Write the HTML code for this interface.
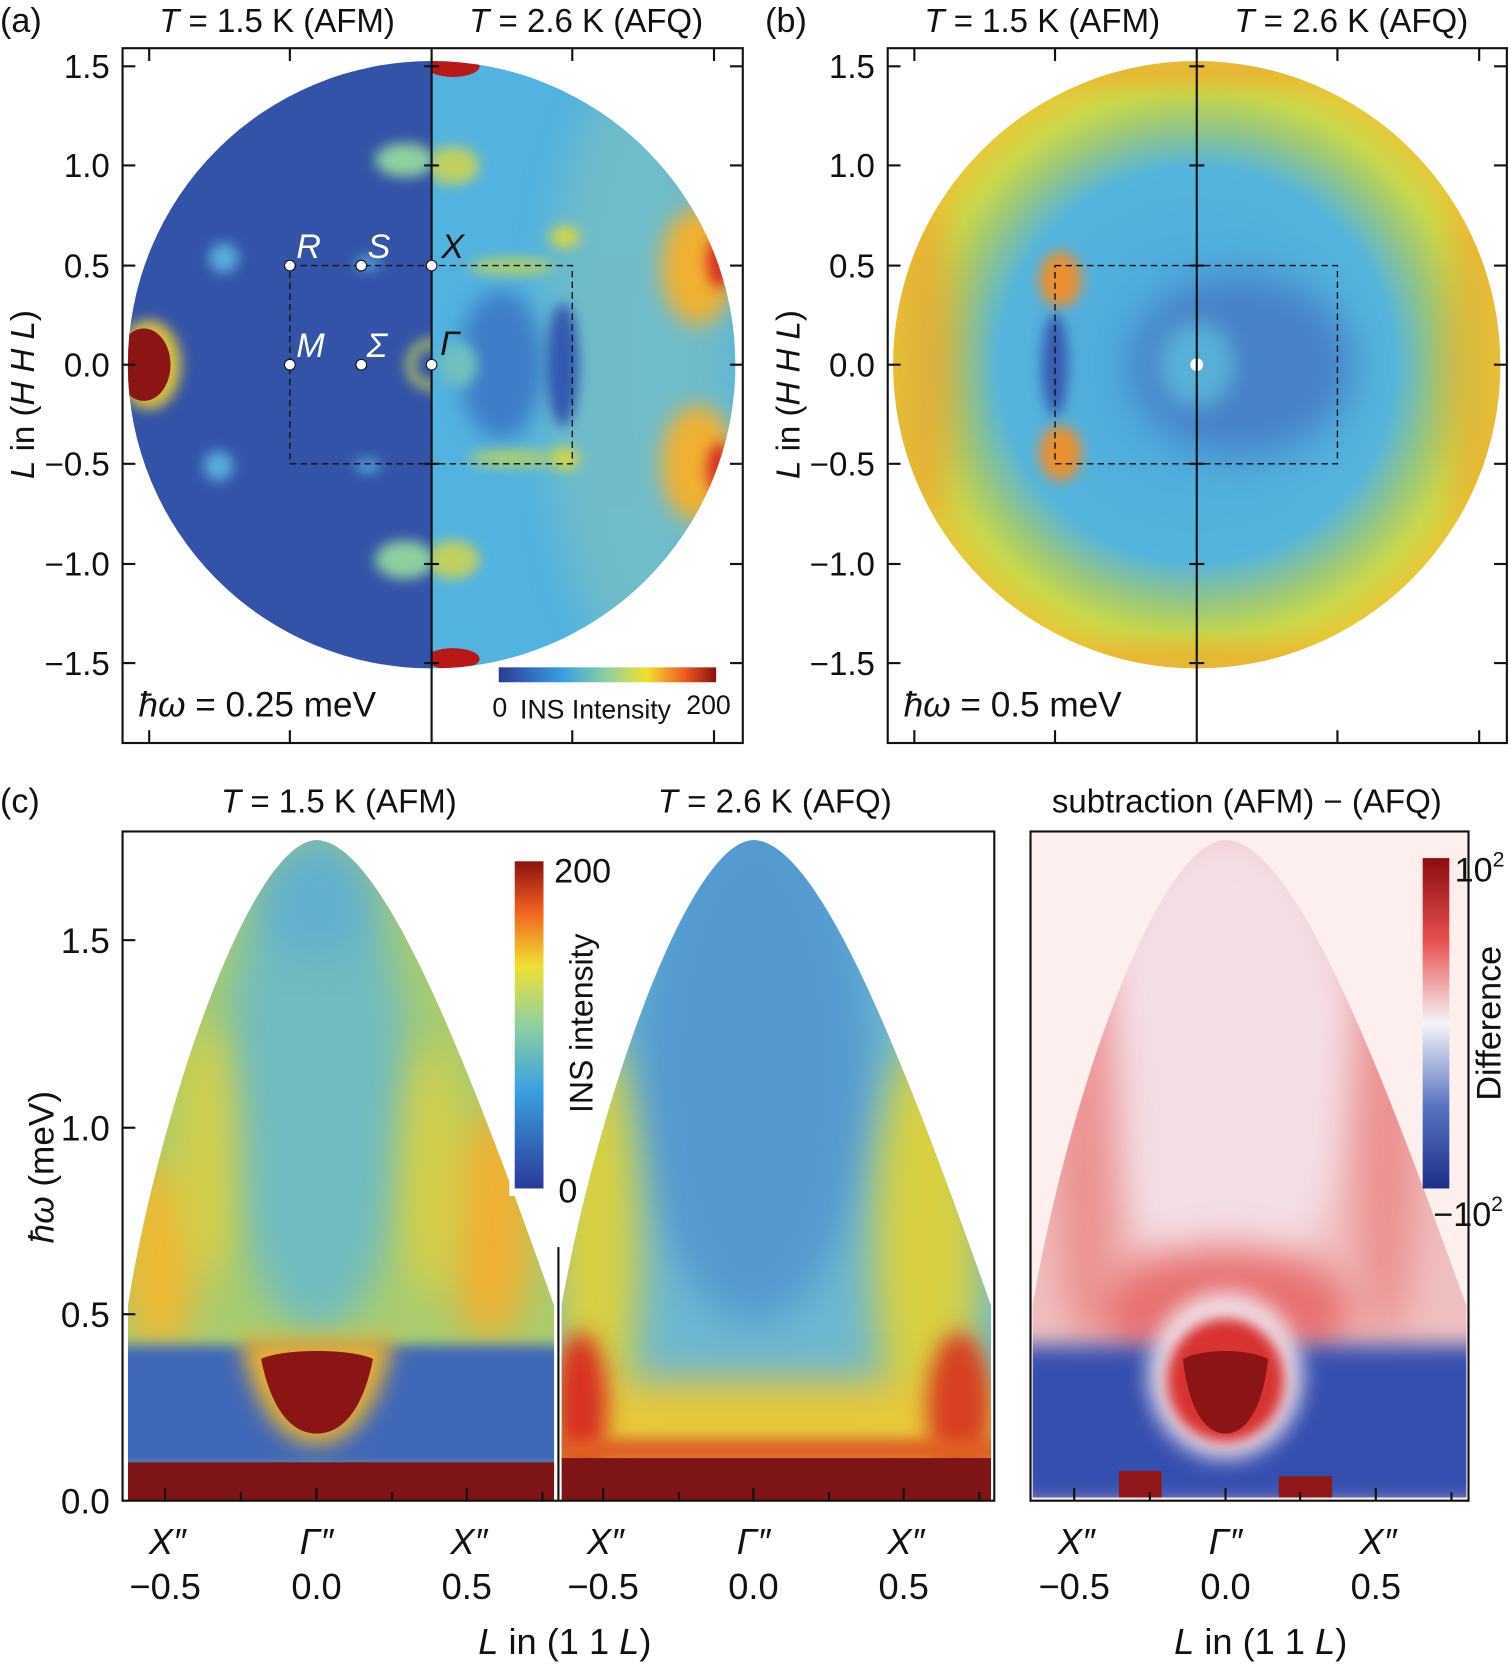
<!DOCTYPE html>
<html><head><meta charset="utf-8">
<style>
html,body{margin:0;padding:0;background:#fff;}
svg{display:block;}
text{font-family:"Liberation Sans",sans-serif;fill:#111;}
</style></head>
<body>
<svg width="1509" height="1664" viewBox="0 0 1416 1561" xmlns="http://www.w3.org/2000/svg">
<defs>
<filter id="b6" x="-100%" y="-100%" width="300%" height="300%"><feGaussianBlur stdDeviation="6"/></filter>
<filter id="b10" x="-100%" y="-100%" width="300%" height="300%"><feGaussianBlur stdDeviation="10"/></filter>
<filter id="b18" x="-100%" y="-100%" width="300%" height="300%"><feGaussianBlur stdDeviation="18"/></filter>
<clipPath id="ca"><circle cx="405" cy="342" r="285"/></clipPath>
<clipPath id="caL"><rect x="100" y="40" width="305" height="620"/></clipPath>
<clipPath id="caR"><rect x="405" y="40" width="300" height="620"/></clipPath>
<clipPath id="cb"><circle cx="1123" cy="342" r="285"/></clipPath>
<clipPath id="d1"><path d="M120,1408 L120,1225 C150,1040 235,790 297,788 C360,790 440,1000 520,1225 L520,1408 Z"/></clipPath>
<clipPath id="d2"><path d="M527,1408 L527,1225 C560,1040 645,790 707,788 C770,790 850,1000 930,1225 L930,1408 Z"/></clipPath>
<clipPath id="d3"><path d="M969,1405 L969,1225 C1000,1040 1085,790 1150,788 C1215,790 1295,1000 1376,1225 L1376,1405 Z"/></clipPath>
<linearGradient id="cbar" x1="0" x2="1" y1="0" y2="0">
<stop offset="0" stop-color="#2b3a9a"/><stop offset="0.3" stop-color="#3aa0e0"/><stop offset="0.5" stop-color="#8fd0a0"/><stop offset="0.68" stop-color="#f0e030"/><stop offset="0.85" stop-color="#f06020"/><stop offset="1" stop-color="#8b1010"/></linearGradient>
<linearGradient id="cbarV" x1="0" x2="0" y1="1" y2="0">
<stop offset="0" stop-color="#2b3a9a"/><stop offset="0.3" stop-color="#3aa0e0"/><stop offset="0.5" stop-color="#8fd0a0"/><stop offset="0.68" stop-color="#f0e030"/><stop offset="0.85" stop-color="#f06020"/><stop offset="1" stop-color="#8b1010"/></linearGradient>
<linearGradient id="cdif" x1="0" x2="0" y1="1" y2="0">
<stop offset="0" stop-color="#1c2f8a"/><stop offset="0.25" stop-color="#5a74c0"/><stop offset="0.5" stop-color="#f4f4f8"/><stop offset="0.75" stop-color="#e85050"/><stop offset="1" stop-color="#8b0c10"/></linearGradient>
<radialGradient id="rb" cx="0.5" cy="0.5" r="0.5">
<stop offset="0" stop-color="#4aa6de"/><stop offset="0.65" stop-color="#55b4dc"/><stop offset="0.8" stop-color="#9cc878"/><stop offset="0.9" stop-color="#c8d84a"/><stop offset="1" stop-color="#e8c838"/></radialGradient>
</defs>

<!-- ================= Panel (a) ================= -->
<text x="0" y="30" font-size="32">(a)</text>
<text x="260" y="30" font-size="31" text-anchor="middle"><tspan font-style="italic">T</tspan> = 1.5 K (AFM)</text>
<text x="550" y="30" font-size="31" text-anchor="middle"><tspan font-style="italic">T</tspan> = 2.6 K (AFQ)</text>
<g clip-path="url(#ca)">
 <g clip-path="url(#caL)">
  <rect x="100" y="40" width="305" height="620" fill="#3353a8"/>
  <ellipse cx="140" cy="342" rx="30" ry="42" fill="#d8c040" filter="url(#b6)"/>
  <ellipse cx="135" cy="342" rx="25" ry="34" fill="#8b1414"/>
  <ellipse cx="210" cy="242" rx="14" ry="14" fill="#5aaede" filter="url(#b6)"/>
  <ellipse cx="205" cy="437" rx="14" ry="14" fill="#5aaede" filter="url(#b6)"/>
  <ellipse cx="380" cy="150" rx="28" ry="16" fill="#8fd0a0" filter="url(#b6)"/>
  <ellipse cx="380" cy="525" rx="28" ry="18" fill="#8fd0a0" filter="url(#b6)"/>
  <ellipse cx="345" cy="247" rx="12" ry="6" fill="#5aaede" filter="url(#b6)"/>
  <ellipse cx="345" cy="437" rx="12" ry="6" fill="#5aaede" filter="url(#b6)"/>
  <circle cx="405" cy="342" r="20" fill="none" stroke="#c8d850" stroke-width="7" filter="url(#b6)"/>
 </g>
 <g clip-path="url(#caR)">
  <rect x="405" y="40" width="300" height="620" fill="#52b2e0"/>
  <ellipse cx="600" cy="342" rx="90" ry="280" fill="#7cc0c0" filter="url(#b18)" opacity="0.7"/>
  <ellipse cx="655" cy="250" rx="35" ry="55" fill="#f0b030" filter="url(#b10)"/>
  <ellipse cx="655" cy="435" rx="35" ry="55" fill="#f0b030" filter="url(#b10)"/>
  <ellipse cx="675" cy="245" rx="12" ry="25" fill="#d83020" filter="url(#b6)"/>
  <ellipse cx="675" cy="440" rx="12" ry="25" fill="#d83020" filter="url(#b6)"/>
  <ellipse cx="470" cy="342" rx="40" ry="70" fill="#3e7ec8" filter="url(#b10)"/>
  <ellipse cx="430" cy="342" rx="18" ry="22" fill="#70c0c0" filter="url(#b6)"/>
  <ellipse cx="528" cy="342" rx="15" ry="58" fill="#3358b0" filter="url(#b6)"/>
  <ellipse cx="530" cy="222" rx="14" ry="10" fill="#d8d840" filter="url(#b6)"/>
  <ellipse cx="530" cy="430" rx="14" ry="10" fill="#d8d840" filter="url(#b6)"/>
  <ellipse cx="425" cy="155" rx="25" ry="18" fill="#c0d060" filter="url(#b6)"/>
  <ellipse cx="425" cy="525" rx="25" ry="18" fill="#c0d060" filter="url(#b6)"/>
  <ellipse cx="425" cy="62" rx="25" ry="10" fill="#b81818"/>
  <ellipse cx="425" cy="618" rx="25" ry="10" fill="#b81818"/>
  <ellipse cx="480" cy="250" rx="40" ry="8" fill="#c8d850" filter="url(#b6)" opacity="0.8"/>
  <ellipse cx="480" cy="430" rx="40" ry="8" fill="#c8d850" filter="url(#b6)" opacity="0.8"/>
 </g>
</g>
<rect x="272" y="249" width="265" height="186" fill="none" stroke="#111" stroke-width="1.3" stroke-dasharray="6,4"/>
<line x1="405" y1="45" x2="405" y2="697" stroke="#111" stroke-width="2"/>
<g fill="#fff" stroke="#111" stroke-width="1">
<circle cx="272" cy="249" r="5"/><circle cx="339" cy="249" r="5"/><circle cx="405" cy="249" r="5"/>
<circle cx="272" cy="342" r="5"/><circle cx="339" cy="342" r="5"/><circle cx="405" cy="342" r="5"/>
</g>
<g font-size="32" font-style="italic">
<text x="278" y="242" style="fill:#fff">R</text>
<text x="345" y="242" style="fill:#fff">S</text>
<text x="414" y="242">X</text>
<text x="278" y="335" style="fill:#fff">M</text>
<text x="344" y="335" style="fill:#fff">Σ</text>
<text x="413" y="333">Γ</text>
</g>
<rect x="115" y="45" width="582" height="652" fill="none" stroke="#111" stroke-width="2"/>
<g stroke="#111" stroke-width="2">
<line x1="140" y1="45" x2="140" y2="57"/><line x1="272" y1="45" x2="272" y2="57"/><line x1="537" y1="45" x2="537" y2="57"/><line x1="670" y1="45" x2="670" y2="57"/>
<line x1="140" y1="697" x2="140" y2="685"/><line x1="272" y1="697" x2="272" y2="685"/><line x1="537" y1="697" x2="537" y2="685"/><line x1="670" y1="697" x2="670" y2="685"/>
<line x1="115" y1="62" x2="127" y2="62"/><line x1="115" y1="155" x2="127" y2="155"/><line x1="115" y1="249" x2="127" y2="249"/><line x1="115" y1="342" x2="127" y2="342"/><line x1="115" y1="435" x2="127" y2="435"/><line x1="115" y1="529" x2="127" y2="529"/><line x1="115" y1="622" x2="127" y2="622"/>
<line x1="697" y1="62" x2="685" y2="62"/><line x1="697" y1="155" x2="685" y2="155"/><line x1="697" y1="249" x2="685" y2="249"/><line x1="697" y1="342" x2="685" y2="342"/><line x1="697" y1="435" x2="685" y2="435"/><line x1="697" y1="529" x2="685" y2="529"/><line x1="697" y1="622" x2="685" y2="622"/>
<line x1="398" y1="62" x2="412" y2="62"/><line x1="398" y1="155" x2="412" y2="155"/><line x1="398" y1="435" x2="412" y2="435"/><line x1="398" y1="529" x2="412" y2="529"/><line x1="398" y1="622" x2="412" y2="622"/>
</g>
<g font-size="31" text-anchor="end">
<text x="103" y="73">1.5</text><text x="103" y="166">1.0</text><text x="103" y="260">0.5</text><text x="103" y="353">0.0</text><text x="103" y="446">−0.5</text><text x="103" y="540">−1.0</text><text x="103" y="633">−1.5</text>
</g>
<text transform="translate(32,370) rotate(-90)" font-size="31" text-anchor="middle"><tspan font-style="italic">L</tspan> in (<tspan font-style="italic">H H L</tspan>)</text>
<text x="130" y="672" font-size="33"><tspan font-style="italic">ħω</tspan> = 0.25 meV</text>
<rect x="468" y="626" width="204" height="14" fill="url(#cbar)"/>
<text x="462" y="672" font-size="25">0</text>
<text x="488" y="674" font-size="25">INS Intensity</text>
<text x="644" y="670" font-size="25">200</text>

<!-- ================= Panel (b) ================= -->
<text x="718" y="30" font-size="32">(b)</text>
<text x="978" y="30" font-size="31" text-anchor="middle"><tspan font-style="italic">T</tspan> = 1.5 K (AFM)</text>
<text x="1268" y="30" font-size="31" text-anchor="middle"><tspan font-style="italic">T</tspan> = 2.6 K (AFQ)</text>
<g clip-path="url(#cb)">
 <circle cx="1123" cy="342" r="285" fill="url(#rb)"/>
 <ellipse cx="870" cy="342" rx="25" ry="150" fill="#e8a030" filter="url(#b18)" opacity="0.8"/>
 <ellipse cx="1380" cy="342" rx="20" ry="150" fill="#e8a030" filter="url(#b18)" opacity="0.7"/>
 <ellipse cx="1123" cy="65" rx="140" ry="16" fill="#e8b030" filter="url(#b10)" opacity="0.8"/>
 <ellipse cx="1123" cy="620" rx="140" ry="16" fill="#e8b030" filter="url(#b10)" opacity="0.8"/>
 <ellipse cx="995" cy="262" rx="20" ry="26" fill="#e89030" filter="url(#b6)"/>
 <ellipse cx="995" cy="425" rx="20" ry="26" fill="#e89030" filter="url(#b6)"/>
 <ellipse cx="1165" cy="342" rx="105" ry="85" fill="#4682c8" filter="url(#b18)"/>
 <ellipse cx="1123" cy="342" rx="35" ry="40" fill="#58b0d8" filter="url(#b10)"/>
 <ellipse cx="990" cy="342" rx="12" ry="48" fill="#3858b0" filter="url(#b6)"/>
 <circle cx="1123" cy="342" r="6" fill="#fff"/>
</g>
<rect x="990" y="249" width="265" height="186" fill="none" stroke="#111" stroke-width="1.3" stroke-dasharray="6,4"/>
<line x1="1123" y1="45" x2="1123" y2="697" stroke="#111" stroke-width="2"/>
<rect x="833" y="45" width="581" height="652" fill="none" stroke="#111" stroke-width="2"/>
<g stroke="#111" stroke-width="2">
<line x1="858" y1="45" x2="858" y2="57"/><line x1="990" y1="45" x2="990" y2="57"/><line x1="1255" y1="45" x2="1255" y2="57"/><line x1="1388" y1="45" x2="1388" y2="57"/>
<line x1="858" y1="697" x2="858" y2="685"/><line x1="990" y1="697" x2="990" y2="685"/><line x1="1255" y1="697" x2="1255" y2="685"/><line x1="1388" y1="697" x2="1388" y2="685"/>
<line x1="833" y1="62" x2="845" y2="62"/><line x1="833" y1="155" x2="845" y2="155"/><line x1="833" y1="249" x2="845" y2="249"/><line x1="833" y1="342" x2="845" y2="342"/><line x1="833" y1="435" x2="845" y2="435"/><line x1="833" y1="529" x2="845" y2="529"/><line x1="833" y1="622" x2="845" y2="622"/>
<line x1="1414" y1="62" x2="1402" y2="62"/><line x1="1414" y1="155" x2="1402" y2="155"/><line x1="1414" y1="249" x2="1402" y2="249"/><line x1="1414" y1="342" x2="1402" y2="342"/><line x1="1414" y1="435" x2="1402" y2="435"/><line x1="1414" y1="529" x2="1402" y2="529"/><line x1="1414" y1="622" x2="1402" y2="622"/>
<line x1="1116" y1="62" x2="1130" y2="62"/><line x1="1116" y1="155" x2="1130" y2="155"/><line x1="1116" y1="249" x2="1130" y2="249"/><line x1="1116" y1="435" x2="1130" y2="435"/><line x1="1116" y1="529" x2="1130" y2="529"/><line x1="1116" y1="622" x2="1130" y2="622"/>
</g>
<g font-size="31" text-anchor="end">
<text x="821" y="73">1.5</text><text x="821" y="166">1.0</text><text x="821" y="260">0.5</text><text x="821" y="353">0.0</text><text x="821" y="446">−0.5</text><text x="821" y="540">−1.0</text><text x="821" y="633">−1.5</text>
</g>
<text transform="translate(750,370) rotate(-90)" font-size="31" text-anchor="middle"><tspan font-style="italic">L</tspan> in (<tspan font-style="italic">H H L</tspan>)</text>
<text x="848" y="672" font-size="33"><tspan font-style="italic">ħω</tspan> = 0.5 meV</text>

<!-- ================= Panel (c) ================= -->
<text x="0" y="762" font-size="32">(c)</text>
<text x="318" y="762" font-size="31" text-anchor="middle"><tspan font-style="italic">T</tspan> = 1.5 K (AFM)</text>
<text x="727" y="762" font-size="31" text-anchor="middle"><tspan font-style="italic">T</tspan> = 2.6 K (AFQ)</text>
<text x="1170" y="762" font-size="31" text-anchor="middle">subtraction (AFM) − (AFQ)</text>

<!-- left dome -->
<g clip-path="url(#d1)">
 <rect x="115" y="780" width="410" height="630" fill="#a8cc70"/>
 <ellipse cx="297" cy="1020" rx="85" ry="230" fill="#62b8d4" filter="url(#b18)" opacity="0.8"/>
 <ellipse cx="297" cy="840" rx="55" ry="60" fill="#58a8d8" filter="url(#b18)" opacity="0.6"/>
 <ellipse cx="150" cy="1180" rx="35" ry="90" fill="#f0b830" filter="url(#b18)"/>
 <ellipse cx="460" cy="1150" rx="40" ry="110" fill="#f0b030" filter="url(#b18)"/>
 <ellipse cx="405" cy="1100" rx="28" ry="120" fill="#e0d040" filter="url(#b18)" opacity="0.8"/>
 <ellipse cx="195" cy="1080" rx="28" ry="120" fill="#e0d040" filter="url(#b18)" opacity="0.8"/>
 <rect x="100" y="1262" width="440" height="115" fill="#4068b8" filter="url(#b6)"/>
 <path d="M225,1255 C240,1330 270,1355 297,1355 C325,1355 355,1330 370,1255 Z" fill="#e8b030" filter="url(#b10)"/>
 <path d="M245,1275 C255,1325 275,1345 297,1345 C320,1345 340,1325 350,1275 C330,1265 265,1265 245,1275 Z" fill="#8b1414"/>
 <rect x="100" y="1372" width="440" height="40" fill="#7d1517"/>
</g>
<!-- middle dome -->
<g clip-path="url(#d2)">
 <rect x="525" y="780" width="410" height="630" fill="#6cb8d0"/>
 <ellipse cx="707" cy="1000" rx="110" ry="240" fill="#4a8cd0" filter="url(#b18)" opacity="0.7"/>
 <ellipse cx="560" cy="1170" rx="40" ry="200" fill="#d8d040" filter="url(#b18)"/>
 <ellipse cx="870" cy="1170" rx="50" ry="200" fill="#d8d040" filter="url(#b18)"/>
 <rect x="515" y="1295" width="430" height="80" fill="#e8c838" filter="url(#b18)"/>
 <ellipse cx="545" cy="1320" rx="25" ry="70" fill="#d83020" filter="url(#b10)"/>
 <ellipse cx="900" cy="1320" rx="30" ry="70" fill="#d84020" filter="url(#b10)"/>
 <rect x="515" y="1350" width="430" height="22" fill="#e06020" filter="url(#b6)"/>
 <rect x="515" y="1368" width="430" height="45" fill="#7d1517"/>
</g>
<!-- right panel -->
<rect x="967" y="780" width="411" height="628" fill="#fcefed"/>
<g clip-path="url(#d3)">
 <rect x="967" y="780" width="411" height="630" fill="#f0c0c0"/>
 <ellipse cx="1150" cy="1000" rx="120" ry="220" fill="#f4e6ee" filter="url(#b18)" opacity="0.8"/>
 <ellipse cx="1020" cy="1080" rx="30" ry="180" fill="#e87070" filter="url(#b18)" opacity="0.6"/>
 <ellipse cx="1300" cy="1080" rx="30" ry="180" fill="#e87070" filter="url(#b18)" opacity="0.6"/>
 <ellipse cx="1150" cy="1230" rx="120" ry="60" fill="#e87070" filter="url(#b18)"/>
 <rect x="950" y="1262" width="450" height="150" fill="#3550b0" filter="url(#b10)"/>
 <ellipse cx="1150" cy="1290" rx="72" ry="78" fill="#f0e0e8" filter="url(#b10)"/>
 <ellipse cx="1150" cy="1295" rx="55" ry="58" fill="#d83030" filter="url(#b6)"/>
 <path d="M1110,1275 C1115,1320 1130,1345 1150,1345 C1170,1345 1185,1320 1190,1275 C1170,1265 1130,1265 1110,1275 Z" fill="#8b1414"/>
 <rect x="1050" y="1380" width="40" height="25" fill="#901818"/>
 <rect x="1200" y="1385" width="50" height="20" fill="#901818"/>
</g>
<!-- frames -->
<rect x="115" y="780" width="818" height="628" fill="none" stroke="#111" stroke-width="2"/>
<line x1="524" y1="1170" x2="524" y2="1408" stroke="#111" stroke-width="2"/>
<rect x="967" y="780" width="411" height="628" fill="none" stroke="#111" stroke-width="2"/>
<rect x="478" y="800" width="46" height="322" fill="#fff"/>
<rect x="483" y="808" width="27" height="307" fill="url(#cbarV)"/>
<text x="520" y="828" font-size="32">200</text>
<text x="524" y="1128" font-size="32">0</text>
<text transform="translate(556,960) rotate(-90)" font-size="30" text-anchor="middle">INS intensity</text>
<rect x="1335" y="805" width="25" height="310" fill="url(#cdif)"/>
<text x="1365" y="827" font-size="32">10<tspan font-size="20" dy="-14">2</tspan></text>
<text x="1345" y="1150" font-size="32">−10<tspan font-size="20" dy="-14">2</tspan></text>
<text transform="translate(1408,960) rotate(-90)" font-size="32" text-anchor="middle">Difference</text>
<g stroke="#111" stroke-width="2">
<line x1="115" y1="882" x2="127" y2="882"/><line x1="115" y1="1058" x2="127" y2="1058"/><line x1="115" y1="1233" x2="127" y2="1233"/>
<line x1="155" y1="1408" x2="155" y2="1396"/><line x1="226" y1="1408" x2="226" y2="1400"/><line x1="297" y1="1408" x2="297" y2="1396"/><line x1="368" y1="1408" x2="368" y2="1400"/><line x1="438" y1="1408" x2="438" y2="1396"/><line x1="509" y1="1408" x2="509" y2="1400"/>
<line x1="566" y1="1408" x2="566" y2="1396"/><line x1="637" y1="1408" x2="637" y2="1400"/><line x1="707" y1="1408" x2="707" y2="1396"/><line x1="778" y1="1408" x2="778" y2="1400"/><line x1="848" y1="1408" x2="848" y2="1396"/><line x1="919" y1="1408" x2="919" y2="1400"/>
<line x1="1008" y1="1408" x2="1008" y2="1396"/><line x1="1079" y1="1408" x2="1079" y2="1400"/><line x1="1150" y1="1408" x2="1150" y2="1396"/><line x1="1220" y1="1408" x2="1220" y2="1400"/><line x1="1291" y1="1408" x2="1291" y2="1396"/><line x1="1362" y1="1408" x2="1362" y2="1400"/>
</g>
<g font-size="33" text-anchor="end">
<text x="103" y="894">1.5</text><text x="103" y="1070">1.0</text><text x="103" y="1245">0.5</text><text x="103" y="1420">0.0</text>
</g>
<text transform="translate(50,1095) rotate(-90)" font-size="33" text-anchor="middle"><tspan font-style="italic">ħω</tspan> (meV)</text>
<g font-size="34" text-anchor="middle">
<g font-style="italic">
<text x="157" y="1458">X″</text><text x="297" y="1458">Γ″</text><text x="440" y="1458">X″</text>
<text x="568" y="1458">X″</text><text x="707" y="1458">Γ″</text><text x="850" y="1458">X″</text>
<text x="1010" y="1458">X″</text><text x="1150" y="1458">Γ″</text><text x="1293" y="1458">X″</text>
</g>
<text x="155" y="1500">−0.5</text><text x="297" y="1500">0.0</text><text x="438" y="1500">0.5</text>
<text x="566" y="1500">−0.5</text><text x="707" y="1500">0.0</text><text x="848" y="1500">0.5</text>
<text x="1008" y="1500">−0.5</text><text x="1150" y="1500">0.0</text><text x="1291" y="1500">0.5</text>
<text x="530" y="1552"><tspan font-style="italic">L</tspan> in (1 1 <tspan font-style="italic">L</tspan>)</text>
<text x="1183" y="1552"><tspan font-style="italic">L</tspan> in (1 1 <tspan font-style="italic">L</tspan>)</text>
</g>
</svg>
</body></html>
